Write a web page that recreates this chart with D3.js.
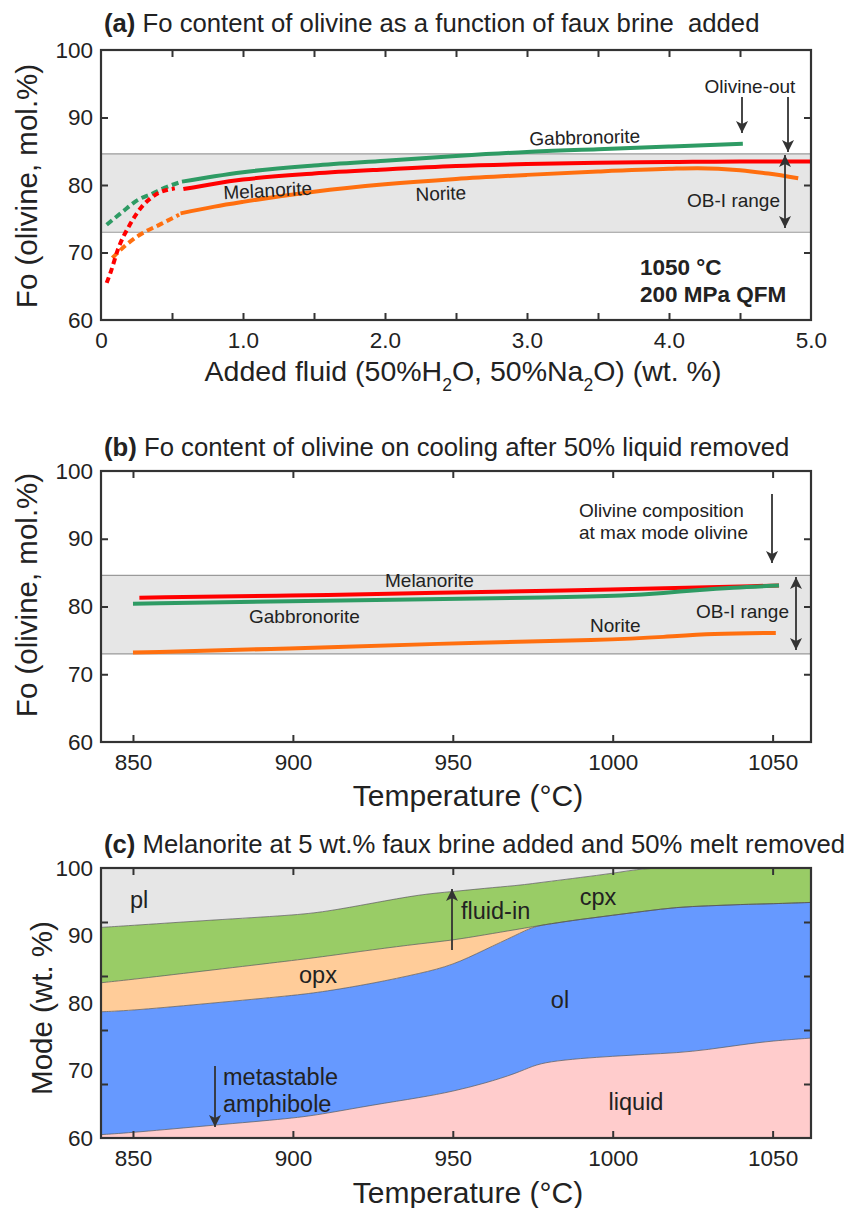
<!DOCTYPE html>
<html>
<head>
<meta charset="utf-8">
<script src="https://cdn.jsdelivr.net/npm/d3@7"></script>
<style>
body { margin: 0; background: #fff; }
text { font-family: "Liberation Sans", Arial, sans-serif; fill: #222; }
</style>
</head>
<body>
<div id="chart"></div>
<script>
// ---- panel (a): Fo vs added fluid (wt.%) ----
var gabDashX = [0.04, 0.15, 0.26, 0.36, 0.45, 0.57];
var gabDashFo = [74.1, 76.0, 77.8, 78.7, 79.6, 80.5];
var gabX = [0.57, 0.8, 1.0, 1.5, 2.0, 2.5, 3.0, 3.5, 4.0, 4.52];
var gabFo = [80.5, 81.3, 81.9, 82.9, 83.6, 84.3, 84.9, 85.3, 85.7, 86.1];
var melDashX = [0.04, 0.07, 0.12, 0.2, 0.28, 0.38, 0.52];
var melDashFo = [65.5, 67.2, 70.5, 74.0, 76.6, 78.5, 79.5];
var melX = [0.58, 0.8, 1.0, 1.5, 2.0, 2.5, 3.0, 3.5, 4.0, 4.5, 5.0];
var melFo = [79.4, 80.2, 80.8, 81.7, 82.3, 82.8, 83.1, 83.3, 83.4, 83.5, 83.5];
var norDashX = [0.08, 0.17, 0.28, 0.42, 0.55];
var norDashFo = [69.2, 71.0, 72.7, 74.2, 75.6];
var norX = [0.56, 0.8, 1.0, 1.5, 2.0, 2.5, 3.0, 3.5, 4.0, 4.2, 4.5, 4.7, 4.91];
var norFo = [75.8, 76.8, 77.5, 79.0, 80.1, 80.9, 81.5, 82.0, 82.4, 82.5, 82.2, 81.7, 81.0];
var fluidTickVals = [0.5, 1, 1.5, 2, 2.5, 3, 3.5, 4, 4.5];
var fluidLabelVals = [0, 1, 2, 3, 4, 5];

// OB-I olivine range (Fo)
var obRange = [73, 84.6];
var foLabelVals = [60, 70, 80, 90, 100];
var foTickVals = [70, 80, 90];

// ---- panel (b): Fo on cooling ----
var melCoolT = [852, 900, 943, 1000, 1052];
var melCoolFo = [81.3, 81.6, 82.0, 82.5, 83.1];
var gabCoolT = [850, 900, 943, 980, 1005, 1016, 1026, 1037, 1052];
var gabCoolFo = [80.4, 80.8, 81.1, 81.3, 81.6, 82.0, 82.4, 82.8, 83.1];
var norCoolT = [850, 900, 943, 1000, 1016, 1031, 1051];
var norCoolFo = [73.2, 73.8, 74.5, 75.1, 75.5, 76.0, 76.1];
var tempVals = [850, 900, 950, 1000, 1050];

// ---- panel (c): phase modes (wt.%) ----
var modeT = [840, 850, 875, 900, 910, 925, 940, 950, 960, 970, 975, 980, 990, 1000, 1010, 1020, 1030, 1040, 1050, 1062];
var liquidMode = [60.5, 60.8, 61.9, 62.9, 63.6, 64.9, 66.0, 66.9, 68.1, 69.6, 70.7, 71.3, 71.8, 72.1, 72.4, 72.6, 73.1, 73.8, 74.4, 74.8];
var olMode = [18.2, 18.1, 18.1, 18.2, 18.1, 18.0, 18.4, 18.7, 19.8, 20.5, 20.6, 20.4, 20.6, 20.9, 21.2, 21.6, 21.3, 20.8, 20.3, 20.1];
var opxMode = [4.3, 4.6, 4.9, 5.2, 5.2, 5.0, 4.4, 3.7, 2.2, 0.8, 0, 0, 0, 0, 0, 0, 0, 0, 0, 0];
var cpxMode = [8.2, 8.0, 7.4, 6.7, 6.6, 6.9, 7.3, 7.2, 6.9, 6.5, 6.4, 6.3, 6.2, 6.2, 6.4, 5.8, 5.6, 5.4, 5.3, 5.1];
var plMode = [8.8, 8.5, 7.7, 7.0, 6.5, 5.2, 3.9, 3.5, 3.0, 2.6, 2.3, 2.0, 1.4, 0.8, 0, 0, 0, 0, 0, 0];
var modeLabelVals = [60, 70, 80, 90, 100];
var modeTickVals = [68, 76, 84, 92];

var phaseKeys = ["liquid", "ol", "opx", "cpx", "pl"];
var phaseColor = {liquid: "#ffcccc", ol: "#6699ff", opx: "#ffcc99", cpx: "#99cc66", pl: "#e6e6e6"};

var GREEN = "#2e9b64", RED = "#ff0000", ORANGE = "#ff6f0f", INK = "#333";

var svg = d3.select("#chart").append("svg")
	.attr("width", 859)
	.attr("height", 1208);

var defs = svg.append("defs");
defs.append("marker")
	.attr("id", "arrow")
	.attr("viewBox", "0 0 12 12")
	.attr("refX", 12).attr("refY", 6)
	.attr("markerWidth", 12).attr("markerHeight", 12)
	.attr("markerUnits", "userSpaceOnUse")
	.attr("orient", "auto-start-reverse")
	.append("path")
	.attr("d", "M0,0 L12,6 L0,12 L3,6 Z")
	.attr("fill", INK);

// a panel: g translated to plot origin, with its scales
function makePanel(top, h, xDomain, yDomain) {
	var w = 710;
	var g = svg.append("g").attr("transform", "translate(101," + top + ")");
	var x = d3.scaleLinear().domain(xDomain).range([0, w]);
	var y = d3.scaleLinear().domain(yDomain).range([h, 0]);
	return {g: g, x: x, y: y, w: w, h: h, top: top};
}

function tidy(sel) {
	sel.select(".domain").remove();
	sel.selectAll("line").attr("stroke", INK).attr("stroke-width", 2);
}

function drawFrame(p, xTicks, yTicks, xLabels, xFmt, yLabels) {
	// inward ticks on all four sides
	p.g.append("g").attr("transform", "translate(0," + p.h + ")")
		.call(d3.axisBottom(p.x).tickValues(xTicks).tickSize(-7).tickFormat("")).call(tidy);
	p.g.append("g")
		.call(d3.axisTop(p.x).tickValues(xTicks).tickSize(-7).tickFormat("")).call(tidy);
	p.g.append("g")
		.call(d3.axisLeft(p.y).tickValues(yTicks).tickSize(-7).tickFormat("")).call(tidy);
	p.g.append("g").attr("transform", "translate(" + p.w + ",0)")
		.call(d3.axisRight(p.y).tickValues(yTicks).tickSize(-7).tickFormat("")).call(tidy);

	// tick labels
	var xl = p.g.append("g").attr("transform", "translate(0," + p.h + ")")
		.call(d3.axisBottom(p.x).tickValues(xLabels).tickSize(0).tickPadding(12).tickFormat(xFmt));
	xl.select(".domain").remove();
	xl.selectAll("text").style("font-size", "22.5px").style("font-family", "Liberation Sans, Arial, sans-serif").attr("fill", "#222");
	var yl = p.g.append("g")
		.call(d3.axisLeft(p.y).tickValues(yLabels).tickSize(0).tickPadding(8));
	yl.select(".domain").remove();
	yl.selectAll("text").style("font-size", "22.5px").style("font-family", "Liberation Sans, Arial, sans-serif").attr("fill", "#222");

	p.g.append("rect")
		.attr("width", p.w).attr("height", p.h)
		.attr("fill", "none").attr("stroke", INK).attr("stroke-width", 2.2);
}

function drawBand(p) {
	p.g.append("rect")
		.attr("x", 0).attr("width", p.w)
		.attr("y", p.y(obRange[1])).attr("height", p.y(obRange[0]) - p.y(obRange[1]))
		.attr("fill", "#e6e6e6");
	p.g.selectAll(".bandEdge").data(obRange).enter().append("line")
		.attr("x1", 0).attr("x2", p.w)
		.attr("y1", function(d) { return p.y(d); }).attr("y2", function(d) { return p.y(d); })
		.attr("stroke", "#9a9a9a").attr("stroke-width", 1.2);
}

function drawCurve(p, xs, ys, color, dash, curve) {
	var line = d3.line()
		.x(function(d) { return p.x(d[0]); })
		.y(function(d) { return p.y(d[1]); })
		.curve(curve || d3.curveMonotoneX);
	p.g.append("path")
		.datum(d3.zip(xs, ys))
		.attr("d", line)
		.attr("fill", "none")
		.attr("stroke", color)
		.attr("stroke-width", 4)
		.attr("stroke-dasharray", dash || null);
}

function label(g, x, y, txt, size, opts) {
	opts = opts || {};
	var t = g.append("text")
		.attr("x", x).attr("y", y)
		.style("font-size", size + "px")
		.attr("text-anchor", opts.anchor || "start")
		.attr("fill", opts.fill || "#333")
		.text(txt);
	if (opts.bold) t.style("font-weight", "bold");
	if (opts.rotate) t.attr("transform", "rotate(" + opts.rotate + "," + x + "," + y + ")");
	return t;
}

function arrow(x1, y1, x2, y2, both) {
	svg.append("line")
		.attr("x1", x1).attr("y1", y1).attr("x2", x2).attr("y2", y2)
		.attr("stroke", INK).attr("stroke-width", 1.8)
		.attr("marker-end", "url(#arrow)")
		.attr("marker-start", both ? "url(#arrow)" : null);
}

function title(y, tag, txt) {
	var t = svg.append("text").attr("x", 104).attr("y", y)
		.style("font-size", "25.7px").style("white-space", "pre");
	t.append("tspan").style("font-weight", "bold").text(tag);
	t.append("tspan").text(txt);
}

function yTitle(x, y, txt) {
	svg.append("text")
		.attr("transform", "translate(" + x + "," + y + ") rotate(-90)")
		.attr("text-anchor", "middle")
		.style("font-size", "29.5px")
		.text(txt);
}

// ================= (a) =================
var pa = makePanel(50, 270, [0, 5], [60, 100]);
drawBand(pa);
drawCurve(pa, gabDashX, gabDashFo, GREEN, "7,4");
drawCurve(pa, norDashX, norDashFo, ORANGE, "7,4");
drawCurve(pa, melDashX, melDashFo, RED, "6,4");
drawCurve(pa, norX, norFo, ORANGE);
drawCurve(pa, gabX, gabFo, GREEN);
drawCurve(pa, melX, melFo, RED);
drawFrame(pa, fluidTickVals, foTickVals, fluidLabelVals,
	function(d) { return d === 0 ? "0" : d3.format(".1f")(d); }, foLabelVals);

title(32, "(a)", " Fo content of olivine as a function of faux brine  added");
yTitle(37, 186, "Fo (olivine, mol.%)");
var xa = svg.append("text").attr("x", 463).attr("y", 381)
	.attr("text-anchor", "middle").style("font-size", "28.5px");
xa.append("tspan").text("Added fluid (50%H");
xa.append("tspan").attr("baseline-shift", "sub").style("font-size", "17.5px").text("2");
xa.append("tspan").text("O, 50%Na");
xa.append("tspan").attr("baseline-shift", "sub").style("font-size", "17.5px").text("2");
xa.append("tspan").text("O) (wt. %)");

label(svg, 585, 144, "Gabbronorite", 19, {anchor: "middle", rotate: -1.5});
label(svg, 268, 197, "Melanorite", 19, {anchor: "middle", rotate: -3});
label(svg, 441, 200, "Norite", 19, {anchor: "middle", rotate: -2});
label(svg, 750, 93, "Olivine-out", 19, {anchor: "middle"});
label(svg, 780, 207, "OB-I range", 19, {anchor: "end"});
label(svg, 640, 275, "1050 °C", 22.5, {bold: true, fill: "#111"});
label(svg, 640, 302, "200 MPa QFM", 22.5, {bold: true, fill: "#111"});
arrow(742, 97, 742, 133);
arrow(788, 97, 788, 152);
arrow(785, 228, 785, 155, true);

// ================= (b) =================
var pb = makePanel(471, 271, [840, 1062], [60, 100]);
drawBand(pb);
drawCurve(pb, norCoolT, norCoolFo, ORANGE, null, d3.curveBasis);
drawCurve(pb, melCoolT, melCoolFo, RED, null, d3.curveBasis);
drawCurve(pb, gabCoolT, gabCoolFo, GREEN, null, d3.curveBasis);
drawFrame(pb, tempVals, foTickVals, tempVals, d3.format("d"), foLabelVals);

title(456, "(b)", " Fo content of olivine on cooling after 50% liquid removed");
yTitle(37, 595, "Fo (olivine, mol.%)");
svg.append("text").attr("x", 468).attr("y", 806)
	.attr("text-anchor", "middle").style("font-size", "30px").text("Temperature (°C)");

label(svg, 385, 587, "Melanorite", 19);
label(svg, 249, 623, "Gabbronorite", 19);
label(svg, 590, 632, "Norite", 19);
label(svg, 789, 618, "OB-I range", 19, {anchor: "end"});
label(svg, 579, 517, "Olivine composition", 19);
label(svg, 579, 539, "at max mode olivine", 19);
arrow(772, 494, 772, 563);
arrow(796, 650, 796, 577, true);

// ================= (c) =================
var pc = makePanel(868, 270, [840, 1062], [60, 100]);
defs.append("clipPath").attr("id", "clipC")
	.append("rect").attr("width", pc.w).attr("height", pc.h);

var modeRows = modeT.map(function(t, i) {
	return {T: t, liquid: liquidMode[i], ol: olMode[i], opx: opxMode[i], cpx: cpxMode[i], pl: plMode[i]};
});
var stacked = d3.stack().keys(phaseKeys)(modeRows);
var area = d3.area()
	.x(function(d) { return pc.x(d.data.T); })
	.y0(function(d) { return pc.y(d[0]); })
	.y1(function(d) { return pc.y(d[1]); })
	.curve(d3.curveBasis);
var topLine = d3.line()
	.x(function(d) { return pc.x(d.data.T); })
	.y(function(d) { return pc.y(d[1]); })
	.curve(d3.curveBasis);

var layers = pc.g.append("g").attr("clip-path", "url(#clipC)");
layers.selectAll(".phase").data(stacked).enter().append("path")
	.attr("class", "phase")
	.attr("d", area)
	.attr("fill", function(d) { return phaseColor[d.key]; });
layers.selectAll(".edge").data(stacked.slice(0, 4)).enter().append("path")
	.attr("class", "edge")
	.attr("d", topLine)
	.attr("fill", "none")
	.attr("stroke", "#555")
	.attr("stroke-width", 0.7);

drawFrame(pc, tempVals, modeTickVals, tempVals, d3.format("d"), modeLabelVals);

title(853, "(c)", " Melanorite at 5 wt.% faux brine added and 50% melt removed");
yTitle(52, 1008, "Mode (wt. %)");
svg.append("text").attr("x", 468).attr("y", 1203)
	.attr("text-anchor", "middle").style("font-size", "30px").text("Temperature (°C)");

label(svg, 130, 908, "pl", 23.5);
label(svg, 598, 905, "cpx", 23.5, {anchor: "middle"});
label(svg, 318, 983, "opx", 23.5, {anchor: "middle"});
label(svg, 560, 1008, "ol", 23.5, {anchor: "middle", fill: "#fff"});
label(svg, 636, 1110, "liquid", 23.5, {anchor: "middle"});
label(svg, 461, 919, "fluid-in", 23.5);
label(svg, 223, 1085, "metastable", 23.5);
label(svg, 223, 1112, "amphibole", 23.5);
arrow(452, 950, 452, 889);
arrow(215, 1066, 215, 1127);
</script>
</body>
</html>
